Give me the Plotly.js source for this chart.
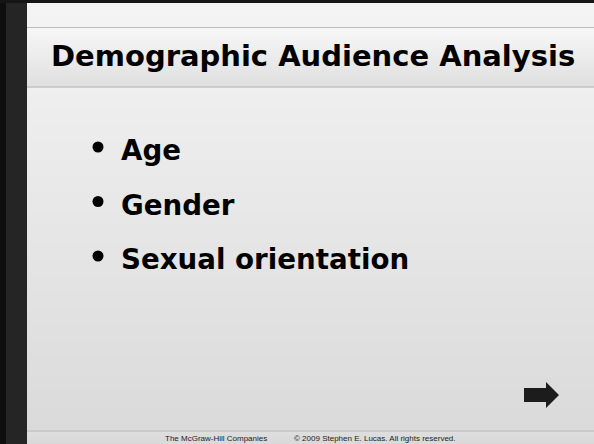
<!DOCTYPE html>
<html><head><meta charset="utf-8">
<script src="https://cdn.plot.ly/plotly-3.0.1.min.js"></script>
<style>html,body{margin:0;padding:0;background:#e6e6e6;}#chart{width:594px;height:444px;}</style>
</head><body><div id="chart"></div>
<script>
// ---- content ----
const titleText = 'Demographic Audience Analysis';
const bulletItems = ['Age', 'Gender', 'Sexual orientation'];
const footerLeft = 'The McGraw-Hill Companies';
const footerRight = '\u00A9 2009 Stephen E. Lucas. All rights reserved.';

// ---- styling helpers ----
const W = 594, H = 444;
function hex(c){return [parseInt(c.slice(1,3),16),parseInt(c.slice(3,5),16),parseInt(c.slice(5,7),16)];}
function lerp(a,b,t){const A=hex(a),B=hex(b);return 'rgb('+A.map((v,i)=>Math.round(v+(B[i]-v)*t)).join(',')+')';}
const shapes = [];
function band(y0,y1,c0,c1,step){
  for(let y=y0;y<y1;y+=step){
    const y2=Math.min(y+step,y1);
    shapes.push({type:'rect',xref:'x',yref:'y',x0:0,x1:W,y0:y,y1:y2+0.5,line:{width:0},fillcolor:lerp(c0,c1,(y-y0)/(y1-y0)),layer:'below'});
  }
}
band(0,431,'#f4f4f4','#dadada',3);
band(431,444,'#dedede','#d8d8d8',3);
band(27,87,'#f7f7f7','#dfdfdf',2);
shapes.push({type:'line',xref:'x',yref:'y',x0:27,x1:W,y0:27.5,y1:27.5,line:{color:'#bdbdbd',width:1.2},layer:'below'});
shapes.push({type:'line',xref:'x',yref:'y',x0:27,x1:W,y0:87,y1:87,line:{color:'#b3b3b3',width:1.2},layer:'below'});
shapes.push({type:'line',xref:'x',yref:'y',x0:27,x1:W,y0:431,y1:431,line:{color:'#b8b8b8',width:1.2},layer:'below'});
// left bar & top border
shapes.push({type:'rect',xref:'x',yref:'y',x0:0,x1:27,y0:0,y1:H,line:{width:0},fillcolor:'#252525',layer:'below'});
shapes.push({type:'rect',xref:'x',yref:'y',x0:0,x1:6,y0:0,y1:H,line:{width:0},fillcolor:'#0e0e0e',layer:'below'});
shapes.push({type:'rect',xref:'x',yref:'y',x0:0,x1:W,y0:0,y1:3,line:{width:0},fillcolor:'#151515',layer:'below'});
// arrow
shapes.push({type:'path',xref:'x',yref:'y',path:'M 524 388 L 546 388 L 546 382 L 559 395 L 546 408 L 546 402 L 524 402 Z',fillcolor:'#1c1c1c',line:{width:0}});

const rowGap = 54.5;
const dotPx = 147, textPx = 153.5;
const yr2 = [(H-dotPx)/rowGap, -dotPx/rowGap];
const yr3 = [(H-textPx)/rowGap, -textPx/rowGap];

const traces = [
  {type:'scatter',mode:'markers',x:bulletItems.map(()=>98),y:bulletItems,yaxis:'y2',
   marker:{size:11,color:'#000'},hoverinfo:'skip',showlegend:false},
  {type:'scatter',mode:'text',x:bulletItems.map(()=>121),y:bulletItems,yaxis:'y3',
   text:bulletItems,textposition:'middle right',
   textfont:{family:'DejaVu Sans',size:27.7,weight:700,color:'#000'},hoverinfo:'skip',showlegend:false}
];

const layout = {
  width:W,height:H,margin:{l:0,r:0,t:0,b:0},
  paper_bgcolor:'#eeeeee',plot_bgcolor:'rgba(0,0,0,0)',
  showlegend:false,
  title:{text:titleText,font:{family:'DejaVu Sans',size:29,weight:700,color:'#000'},
    x:51/W,xanchor:'left',xref:'paper',y:1-56/H,yref:'paper',yanchor:'middle'},
  xaxis:{range:[0,W],visible:false,fixedrange:true},
  yaxis:{range:[H,0],visible:false,fixedrange:true},
  yaxis2:{overlaying:'y',type:'category',categoryarray:bulletItems,range:yr2,visible:false,fixedrange:true},
  yaxis3:{overlaying:'y',type:'category',categoryarray:bulletItems,range:yr3,visible:false,fixedrange:true},
  shapes:shapes,
  annotations:[
    {text:footerLeft,x:163,y:438,xref:'x',yref:'y',xanchor:'left',yanchor:'middle',showarrow:false,
     font:{family:'Liberation Sans',size:8.0,color:'#222'}},
    {text:footerRight,x:292,y:438,xref:'x',yref:'y',xanchor:'left',yanchor:'middle',showarrow:false,
     font:{family:'Liberation Sans',size:8.0,color:'#222'}}
  ]
};
Plotly.newPlot('chart',traces,layout,{staticPlot:true,displayModeBar:false});
</script></body></html>
